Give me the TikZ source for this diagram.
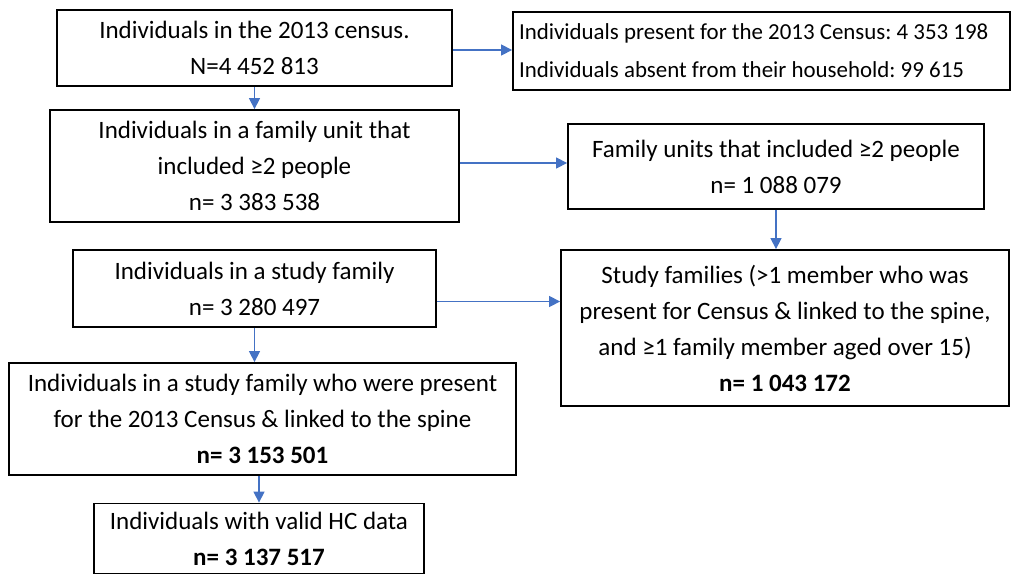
\documentclass[tikz,border=0pt]{standalone}
\usepackage{fontspec}
\setmainfont{Carlito}
\usetikzlibrary{arrows.meta}
\definecolor{arrowblue}{HTML}{4472C4}
\tikzset{
  box/.style={draw=black, line width=1.8pt, align=center, inner sep=0pt,
    font=\fontsize{25}{36}\selectfont},
  conn/.style={draw=arrowblue, line width=1.3pt,
    -{Triangle[length=11pt,width=11pt]}},
}
\begin{document}
\frenchspacing
\begin{tikzpicture}[x=1pt,y=-1pt]
\useasboundingbox (0,0) rectangle (1015,574);
\node[box, align=flush left, text width=485pt, inner xsep=6pt, minimum height=78pt,
  font=\fontsize{22.9}{38}\selectfont] (D) at (761.5,51)
  {Individuals present for the 2013 Census: 4 353 198\\Individuals absent from their household: 99 615};
\node[box, minimum width=395pt, minimum height=76pt] (A) at (254.5,48)
  {Individuals in the 2013 census.\\N=4 452 813};
\node[box, minimum width=409pt, minimum height=112pt] (B) at (254.5,166)
  {Individuals in a family unit that\\included ≥2 people\\n= 3 383 538};
\node[box, minimum width=416pt, minimum height=85pt] (E) at (776,166.5)
  {Family units that included ≥2 people\\n= 1 088 079};
\node[box, minimum width=363pt, minimum height=77pt] (C) at (254.5,288.5)
  {Individuals in a study family\\n= 3 280 497};
\node[box, minimum width=448pt, minimum height=156pt] (F) at (785,328)
  {Study families (>1 member who was\\present for Census \& linked to the spine,\\and ≥1 family member aged over 15)\\\textbf{n= 1 043 172}};
\node[box, minimum width=507pt, minimum height=112pt] (G) at (262.5,419)
  {Individuals in a study family who were present\\for the 2013 Census \& linked to the spine\\\textbf{n= 3 153 501}};
\node[box, minimum width=330pt, minimum height=70pt] (H) at (259,538.5)
  {Individuals with valid HC data\\\textbf{n= 3 137 517}};
\draw[conn] ([yshift=-2pt]A.east) -- ([yshift=-2pt]A.east -| D.west);
\draw[conn] (A.south) -- (B.north);
\draw[conn] ([yshift=3pt]B.east) -- ([yshift=3pt]B.east -| E.west);
\draw[conn] (E.south) -- (E.south |- F.north);
\draw[conn] ([yshift=-13pt]C.east) -- ([yshift=-13pt]C.east -| F.west);
\draw[conn] (C.south) -- (C.south |- G.north);
\draw[conn] (H.north |- G.south) -- (H.north);
\end{tikzpicture}
\end{document}
